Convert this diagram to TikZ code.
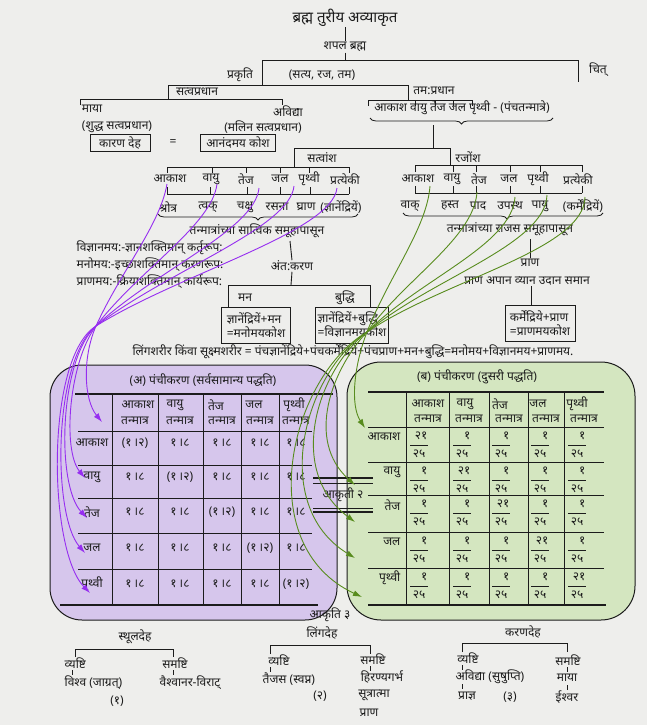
\documentclass[tikz,border=0pt]{standalone}
\usepackage{fontspec}
\setmainfont[Script=Devanagari]{Noto Sans}
\usetikzlibrary{arrows.meta,decorations.pathreplacing}
\definecolor{paper}{RGB}{238,238,236}
\definecolor{lav}{RGB}{214,198,236}
\definecolor{mint}{RGB}{212,230,192}
\definecolor{vio}{RGB}{150,45,240}
\definecolor{olive}{RGB}{88,140,30}
\definecolor{ink}{RGB}{28,28,28}
\begin{document}
\begin{tikzpicture}[x=1pt,y=-1pt,
  lbl/.style={font=\fontsize{12}{14}\selectfont, inner sep=0.5pt, text=ink},
  lblb/.style={lbl, font=\fontsize{12}{14}\selectfont\bfseries},
  kbox/.style={lbl, draw=ink, line width=1pt, inner sep=2.5pt},
  trl/.style={draw=ink, line width=0.9pt},
  tblrule/.style={draw=ink, line width=0.8pt},
  heavyrule/.style={draw=ink, line width=1.8pt},
  brc/.style={draw=ink, line width=0.8pt, decorate, decoration={brace, mirror, amplitude=6pt, aspect=#1}},
  brc/.default=0.5,
  vline/.style={vio, line width=0.9pt, -{Latex[length=9pt,width=6pt]}},
  gline/.style={olive, line width=0.9pt, -{Latex[length=9pt,width=6pt]}},
]
\fill[paper] (0,0) rectangle (647,725);
\useasboundingbox (0,0) rectangle (647,725);

% ---------- coloured panels ----------
\draw[fill=lav, draw=ink, line width=1pt, rounded corners=32pt] (50,365) rectangle (337,620);
\draw[fill=mint, draw=ink, line width=1pt, rounded corners=34pt] (347,362) rectangle (635,620);

% ---------- top of the tree ----------
\node[lblb, font=\fontsize{15}{17}\selectfont\bfseries] (title) at (345,18) {ब्रह्म तुरीय अव्याकृत};
\node[lblb] (shabala) at (345,47) {शपल ब्रह्म};
\draw[trl] (title.south) -- (shabala.north);
\coordinate (jtop) at (345,60);
\draw[trl] (shabala.south) -- (jtop);
\draw[trl] (262,85) -- (262,60) -- (578,60) -- (578,82);
\node[lbl] (chit) at (598,70) {चित्};
\node[lbl] (prakriti) at (240,75) {प्रकृति};
\node[lbl] (guna) at (322,75) {(सत्य, रज, तम)};

\draw[trl] (168,99) -- (168,85) -- (408,85) -- (408,100);
\node[lbl] (sattvap) at (197,92) {सत्वप्रधान};
\node[lbl] (tamap) at (434,91) {तम:प्रधान};

\draw[trl] (80,105) -- (80,99) -- (282,99) -- (282,105);
\node[lbl] (maya) at (92,109) {माया};
\node[lbl] (avidya) at (288,111) {अविद्या};
\node[lbl] (shuddha) at (117,127) {(शुद्ध सत्वप्रधान)};
\node[lbl] (malina) at (263,127) {(मलिन सत्वप्रधान)};
\node[kbox, minimum width=60pt] (karan) at (120,143) {कारण देह};
\node[lbl] (eq) at (173,143) {=};
\node[kbox, minimum width=75pt] (anand) at (238,143) {आनंदमय कोश};

% five subtle elements
\draw[trl] (368,106) -- (368,100) -- (472,100) -- (472,106);
\foreach \x in {415,435,453} \draw[trl] (\x,100) -- (\x,106);
\node[lbl] (tanm) at (462,108) {आकाश वायु तेज जल पृथ्वी - (पंचतन्मात्रे)};
\draw[brc] (370,118) -- (553,118);
\draw[trl] (433,125) -- (433,148);
\draw[trl] (294,167) -- (294,148) -- (450,148) -- (450,165);

% ---------- sattva share ----------
\node[lbl] (sattvansh) at (322,158) {सत्वांश};
\draw[trl] (167,167) -- (349,167);
\foreach \x in {167,212,246,280,309,349} \draw[trl] (\x,167) -- (\x,173);
\node[lbl] (sa1) at (170,179) {आकाश};
\node[lbl] (sa2) at (211,179) {वायु};
\node[lbl] (sa3) at (246,179) {तेज};
\node[lbl] (sa4) at (280,179) {जल};
\node[lbl] (sa5) at (309,179) {पृथ्वी};
\node[lbl] (sa6) at (345,179) {प्रत्येकी};
\draw[trl] (167,194) -- (349,194);
\foreach \x in {167,210,247,280,310,349} \draw[trl] (\x,187) -- (\x,194);
\node[lbl] (sb1) at (168,207) {श्रोत्र};
\node[lbl] (sb2) at (208,207) {त्वक्};
\node[lbl] (sb3) at (245,207) {चक्षु};
\node[lbl] (sb4) at (277,207) {रसना};
\node[lbl] (sb5) at (306,207) {घ्राण};
\node[lbl] (sb6) at (341,207) {(ज्ञानेंद्रियें)};
\draw[brc] (158,214) -- (358,214);
\node[lbl] (satsam) at (257,231) {तन्मात्रांच्या सात्विक समूहापासून};
\node[lbl] (antah) at (292,266) {अंत:करण};
\draw[trl] (290,241) -- (antah.north);
\draw[trl] (antah.south) -- (291,285);
\draw[trl] (228,307) -- (228,285) -- (370,285) -- (370,307);
\node[lbl] (mana) at (245,298) {मन};
\node[lbl] (buddhi) at (345,298) {बुद्धि};
\node[kbox, align=left, minimum width=69pt, minimum height=36pt] (manomaya) at (256,325) {ज्ञानेंद्रियें+मन\\=मनोमयकोश};
\node[kbox, align=left, minimum width=73pt, minimum height=36pt] (vijnana) at (352,325) {ज्ञानेंद्रियें+बुद्धि\\=विज्ञानमयकोश};

\node[lbl, anchor=west] (kosh1) at (76,248) {विज्ञानमय:-ज्ञानशक्तिमान् कर्तृरूप:};
\node[lbl, anchor=west] (kosh2) at (76,265) {मनोमय:-इच्छाशक्तिमान् करणरूप:};
\node[lbl, anchor=west] (kosh3) at (76,282) {प्राणमय:-क्रियाशक्तिमान् कार्यरूप:};

% ---------- rajas share ----------
\node[lbl] (rajansh) at (468,157) {रजोंश};
\draw[trl] (415,165) -- (582,165);
\foreach \x in {415,453,476,510,540,582} \draw[trl] (\x,165) -- (\x,172);
\node[lbl] (ra1) at (418,179) {आकाश};
\node[lbl] (ra2) at (452,179) {वायु};
\node[lbl] (ra3) at (479,179) {तेज};
\node[lbl] (ra4) at (509,179) {जल};
\node[lbl] (ra5) at (538,179) {पृथ्वी};
\node[lbl] (ra6) at (578,179) {प्रत्येकी};
\draw[trl] (415,193) -- (582,193);
\foreach \x in {415,453,476,510,540,582} \draw[trl] (\x,186) -- (\x,193);
\node[lbl] (rb1) at (410,206) {वाक्};
\node[lbl] (rb2) at (450,206) {हस्त};
\node[lbl] (rb3) at (478,206) {पाद};
\node[lbl] (rb4) at (510,206) {उपस्थ};
\node[lbl] (rb5) at (540,206) {पायु};
\node[lbl] (rb6) at (583,206) {(कर्मेंद्रियें)};
\draw[brc=0.52] (403,213) -- (603,213);
\node[lbl] (rajsam) at (510,229) {तन्मात्रांच्या राजस समूहापासून};
\node[lbl] (prana) at (530,263) {प्राण};
\draw[trl] (530,239) -- (prana.north);
\node[lbl] (panch) at (527,281) {प्राण अपान व्यान उदान समान};
\node[kbox, align=left, minimum width=70pt, minimum height=36pt] (pranamaya) at (540,323) {कर्मेंद्रिये+प्राण\\=प्राणमयकोश};
\draw[trl] (panch.south -| 531,0) -- (pranamaya.north -| 531,0);

\node[lbl] (linga) at (353,352) {लिंगशरीर किंवा सूक्ष्मशरीर = पंचज्ञानेंद्रिये+पंचकर्मेंद्रिये+पंचप्राण+मन+बुद्धि=मनोमय+विज्ञानमय+प्राणमय.};

% ---------- table (a) ----------
\node[lbl] (tta) at (203,380) {\textbf{(अ) पंचीकरण} (सर्वसामान्य पद्धति)};
\draw[heavyrule] (75,394) -- (333,394);
\draw[heavyrule] (60,605) -- (318,605);
\foreach \y in {431,465,498,533,569} \draw[tblrule] (78,\y) -- (312,\y);
\foreach \x in {112,158,203,241,279} \draw[tblrule] (\x,394) -- (\x,605);
\foreach \c/\cx/\w in {1/138/आकाश,2/175/वायु,3/216/तेज,4/254/जल,5/294/पृथ्वी}
  \node[lbl] (ha\c) at (\cx,405) {\w};
\foreach \c/\cx in {1/135,2/180,3/222,4/260,5/296}
  \node[lbl] (hb\c) at (\cx,421) {तन्मात्र};
\foreach \r/\ry/\w in {1/443/आकाश,2/477/वायु,3/512/तेज,4/548/जल,5/584/पृथ्वी}{
  \node[lbl] (la\r) at (92,\ry) {\w};
  \foreach \c/\cx in {1/135,2/180,3/222,4/260,5/296}
    \node[lbl] (va\r\c) at (\cx,\ry) {\ifnum\r=\c\relax(१\,।२)\else१\,।८\fi};
}

% ---------- table (b) ----------
\node[lbl] (ttb) at (477,377) {\textbf{(ब) पंचीकरण} (दुसरी पद्धति)};
\draw[heavyrule] (368,392) -- (604,392);
\draw[heavyrule] (368,605) -- (606,605);
\foreach \y in {427,462,495,532,568} \draw[tblrule] (368,\y) -- (604,\y);
\foreach \x in {406,449,489,528,564} \draw[tblrule] (\x,392) -- (\x,605);
\foreach \c/\cx/\w in {1/428/आकाश,2/465/वायु,3/500/तेज,4/538/जल,5/577/पृथ्वी}
  \node[lbl] (hc\c) at (\cx,404) {\w};
\foreach \c/\cx in {1/428,2/469,3/509,4/546,5/584}
  \node[lbl] (hd\c) at (\cx,419) {तन्मात्र};
\foreach \r/\ry/\w in {1/427/आकाश,2/462/वायु,3/495/तेज,4/532/जल,5/568/पृथ्वी}{
  \node[lbl, anchor=east] (lb\r) at (401,\ry+10) {\w};
  \foreach \c/\cx in {1/419,2/462,3/501,4/540,5/577}{
    \node[lbl, anchor=east] (nb\r\c) at (\cx+9,\ry+9) {\ifnum\r=\c\relax२१\else१\fi};
    \draw[line width=0.7pt, ink] (\cx-9,\ry+18) -- (\cx+9,\ry+18);
    \node[lbl] (db\r\c) at (\cx,\ry+27) {२५};
  }
}

% ---------- figure 2 marker between the tables ----------
\draw[line width=1.6pt, ink] (313,478) -- (373,478);
\draw[line width=0.7pt, ink] (313,483) -- (373,483);
\draw[line width=0.7pt, ink] (313,508) -- (373,508);
\draw[line width=1.6pt, ink] (313,512) -- (373,512);
\node[lbl] (fig2) at (343,495) {आकृती २};

% ---------- bottom: three bodies ----------
\node[lbl] (fig3) at (330,615) {आकृति ३};
\node[lblb] (lingadeha) at (322,633) {लिंगदेह};
\node[lblb] (sthula) at (135,637) {स्थूलदेह};
\node[lblb] (karanadeha) at (523,632) {करणदेह};

\draw[trl] (75,657) -- (75,649) -- (173,649) -- (173,657);
\node[lbl, anchor=west] (s1) at (64,663) {व्यष्टि};
\node[lbl] (s2) at (175,663) {समष्टि};
\draw[trl] (72,670) -- (72,675);
\draw[trl] (173,670) -- (173,675);
\node[lbl, anchor=west] (s3) at (64,683) {विश्व (जाग्रत्)};
\node[lbl] (s4) at (190,683) {वैश्वानर-विराट्};
\node[lbl] (s5) at (117,701) {(१)};

\draw[trl] (270,654) -- (270,645) -- (370,645) -- (370,654);
\node[lbl] (m1) at (279,660) {व्यष्टि};
\node[lbl] (m2) at (373,659) {समष्टि};
\draw[trl] (270,667) -- (270,672);
\draw[trl] (370,666) -- (370,671);
\node[lbl, anchor=west] (m3) at (262,679) {तैजस (स्वप्न)};
\node[lbl] (m4) at (382,677) {हिरण्यगर्भ};
\node[lbl] (m5) at (374,695) {सूत्रात्मा};
\node[lbl] (m6) at (369,713) {प्राण};
\node[lbl] (m7) at (320,696) {(२)};

\draw[trl] (462,652) -- (462,643) -- (567,643) -- (567,652);
\node[lbl] (k1) at (468,658) {व्यष्टि};
\node[lbl] (k2) at (568,660) {समष्टि};
\draw[trl] (462,665) -- (462,670);
\draw[trl] (462,684) -- (462,689);
\draw[trl] (567,667) -- (567,672);
\draw[trl] (567,685) -- (567,690);
\node[lbl, anchor=west] (k3) at (455,677) {अविद्या (सुषुप्ति)};
\node[lbl] (k4) at (467,696) {प्राज्ञ};
\node[lbl] (k5) at (510,697) {(३)};
\node[lbl] (k6) at (567,678) {माया};
\node[lbl] (k7) at (567,697) {ईश्वर};

% ---------- connectors: sattva elements to rows of table (a) ----------
\coordinate (pX) at (96,326);
\coordinate (ps1) at (167,184); \coordinate (pe1) at (102,422);
\coordinate (ps2) at (217,184); \coordinate (pe2) at (85,478);
\coordinate (ps3) at (259,188); \coordinate (pe3) at (87,518);
\coordinate (ps4) at (294,186); \coordinate (pe4) at (85,553);
\coordinate (ps5) at (337,188); \coordinate (pe5) at (90,593);
\draw[vline] (ps1) .. controls (160,225) and (121,271) .. (pX) .. controls (82,358) and (84,400) .. (pe1);
\draw[vline] (ps2) .. controls (212,225) and (139,270) .. (pX) .. controls (69,362) and (62,450) .. (pe2);
\draw[vline] (ps3) .. controls (255,230) and (154,271) .. (pX) .. controls (59,360) and (56,485) .. (pe3);
\draw[vline] (ps4) .. controls (290,228) and (167,271) .. (pX) .. controls (53,360) and (52,515) .. (pe4);
\draw[vline] (ps5) .. controls (332,232) and (181,273) .. (pX) .. controls (45,358) and (48,550) .. (pe5);

% ---------- connectors: rajas elements to rows of table (b) ----------
\coordinate (gX) at (367,332);
\coordinate (gs1) at (430,186); \coordinate (ge1) at (365,428);
\coordinate (gs2) at (477,192); \coordinate (ge2) at (355,485);
\coordinate (gs3) at (515,197); \coordinate (ge3) at (355,522);
\coordinate (gs4) at (547,195); \coordinate (ge4) at (355,558);
\coordinate (gs5) at (585,197); \coordinate (ge5) at (362,597);
\draw[gline] (gs1) .. controls (427,228) and (389,276) .. (gX) .. controls (354,365) and (350,405) .. (ge1);
\draw[gline] (gs2) .. controls (474,238) and (405,279) .. (gX) .. controls (332,369) and (305,440) .. (ge2);
\draw[gline] (gs3) .. controls (512,245) and (420,279) .. (gX) .. controls (318,370) and (285,470) .. (ge3);
\draw[gline] (gs4) .. controls (545,245) and (432,278) .. (gX) .. controls (305,372) and (268,505) .. (ge4);
\draw[gline] (gs5) .. controls (584,250) and (446,279) .. (gX) .. controls (290,377) and (250,545) .. (ge5);
\end{tikzpicture}
\end{document}
